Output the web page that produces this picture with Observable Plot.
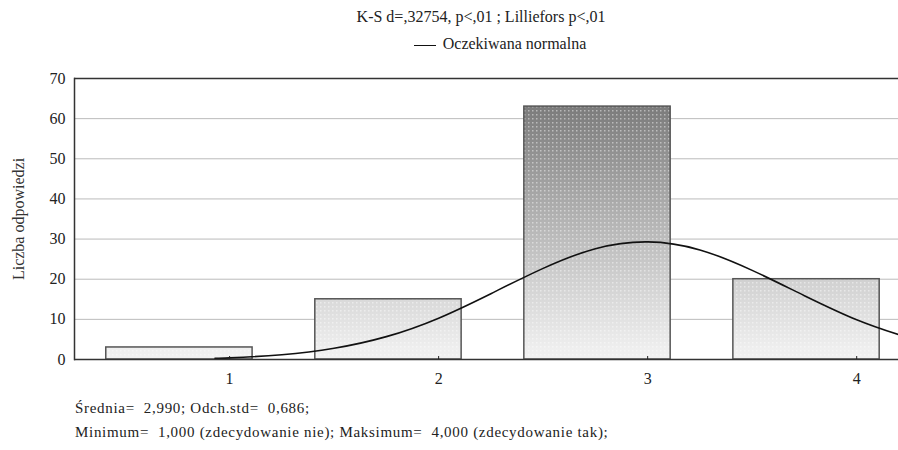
<!DOCTYPE html>
<html>
<head>
<meta charset="utf-8">
<script src="https://cdn.jsdelivr.net/npm/d3@7"></script>
<script src="https://cdn.jsdelivr.net/npm/@observablehq/plot@0.6"></script>
<style>
  html, body { margin: 0; padding: 0; background: #fff; }
  body { width: 898px; height: 450px; position: relative; overflow: hidden;
         font-family: "Liberation Serif", "DejaVu Serif", "Times New Roman", serif; color: #222; }
  #title { position: absolute; top: 8px; left: 74px; width: 814px; text-align: center; font-size: 16px; }
  #legend { position: absolute; top: 35px; left: 74px; width: 852px; text-align: center; font-size: 16px; }
  #legend .sw { display: inline-block; width: 22px; border-top: 1.5px solid #111; vertical-align: middle; margin-right: 7px; }
  #chart { position: absolute; top: 62px; left: 0; }
  #foot { position: absolute; top: 396px; left: 75px; font-size: 15px; line-height: 24px; letter-spacing: 0.7px; }
</style>
</head>
<body>
<div id="title">K-S d=,32754, p&lt;,01 ; Lilliefors p&lt;,01</div>
<div id="legend"><span class="sw"></span>Oczekiwana normalna</div>
<div id="chart"></div>
<div id="foot">
  <div>Średnia=&nbsp; 2,990; Odch.std=&nbsp; 0,686;</div>
  <div>Minimum=&nbsp; 1,000 (zdecydowanie nie); Maksimum=&nbsp; 4,000 (zdecydowanie tak);</div>
</div>
<script>
// Histogram bins (answer categories 1..4) — edges as drawn in the picture
const categories = [1, 2, 3, 4];
const binStart = [0.41, 1.41, 2.41, 3.41];
const binEnd   = [1.11, 2.11, 3.11, 4.11];
const counts   = [3, 15, 63, 20];

// Expected normal curve
const curveX = [0.93, 1.0, 1.25, 1.5, 1.75, 2.0, 2.25, 2.5, 2.75, 3.0, 3.25, 3.5, 3.75, 4.0, 4.2];
const curveY = [0.3, 0.4, 1.2, 2.8, 5.7, 10.3, 16.4, 22.7, 27.6, 29.3, 27.3, 22.2, 15.9, 9.9, 6.2];

const yTicks = [0, 10, 20, 30, 40, 50, 60, 70];
const xTicks = [1, 2, 3, 4];
const yLabel = "Liczba odpowiedzi";

const bars = categories.map((c, i) => ({c, x1: binStart[i], x2: binEnd[i], n: counts[i]}));
const curve = curveX.map((x, i) => ({x, y: curveY[i]}));

const serif = "'Liberation Serif', 'DejaVu Serif', 'Times New Roman', serif";

const chart = Plot.plot({
  width: 898,
  height: 333,
  marginTop: 16,
  marginBottom: 36,
  marginLeft: 74,
  marginRight: 0,
  style: {fontFamily: serif, fontSize: "16px", color: "#222", background: "#fff"},
  x: {domain: [0.258, 4.2]},
  y: {domain: [0, 70]},
  marks: [
    Plot.gridY(yTicks.filter(d => d > 0 && d < 70), {stroke: "#bbb", strokeOpacity: 1, strokeWidth: 1}),
    Plot.rectY(bars, {x1: "x1", x2: "x2", y1: 0, y2: "n", fill: "url(#barGrad)"}),
    Plot.rectY(bars, {x1: "x1", x2: "x2", y1: 0, y2: "n", fill: "url(#dots)", stroke: "#555", strokeWidth: 1.5}),
    Plot.line(curve, {x: "x", y: "y", curve: "natural", stroke: "#111", strokeWidth: 1.6}),
    Plot.ruleY([0, 70], {stroke: "#333", strokeWidth: 1.5}),
    Plot.frame({anchor: "left", stroke: "#333", strokeWidth: 1.5}),
    Plot.axisY(yTicks, {tickSize: 0, tickPadding: 9, label: null, fontSize: 16, fontFamily: serif}),
    Plot.axisX(xTicks, {tickSize: -3, tickPadding: 16, tickFormat: d3.format("d"), label: null, fontSize: 16, fontFamily: serif}),
    Plot.text([yLabel], {frameAnchor: "left", dx: -56, rotate: -90, textAnchor: "middle", fontSize: 16, fontFamily: serif, fill: "#333"})
  ]
});

// vertical gradient fixed to the y scale (dark near the top, light at zero)
const ys = chart.scale("y");
const y0 = ys.apply(0), y1 = ys.apply(66);
const ns = "http://www.w3.org/2000/svg";
const defs = document.createElementNS(ns, "defs");
const g = document.createElementNS(ns, "linearGradient");
g.setAttribute("id", "barGrad");
g.setAttribute("gradientUnits", "userSpaceOnUse");
g.setAttribute("x1", 0); g.setAttribute("x2", 0);
g.setAttribute("y1", y0); g.setAttribute("y2", y1);
[["0", "#f3f3f3"], ["0.3", "#d0d0d0"], ["1", "#757575"]].forEach(([o, c]) => {
  const s = document.createElementNS(ns, "stop");
  s.setAttribute("offset", o); s.setAttribute("stop-color", c);
  g.appendChild(s);
});
defs.appendChild(g);
// fine dotted texture like the original fill
const p = document.createElementNS(ns, "pattern");
p.setAttribute("id", "dots");
p.setAttribute("patternUnits", "userSpaceOnUse");
p.setAttribute("width", 4); p.setAttribute("height", 4);
const dot = document.createElementNS(ns, "rect");
dot.setAttribute("width", 1.5); dot.setAttribute("height", 1.5);
dot.setAttribute("fill", "#fff"); dot.setAttribute("fill-opacity", 0.45);
p.appendChild(dot);
defs.appendChild(p);
chart.insertBefore(defs, chart.firstChild);

document.getElementById("chart").appendChild(chart);
</script>
</body>
</html>
